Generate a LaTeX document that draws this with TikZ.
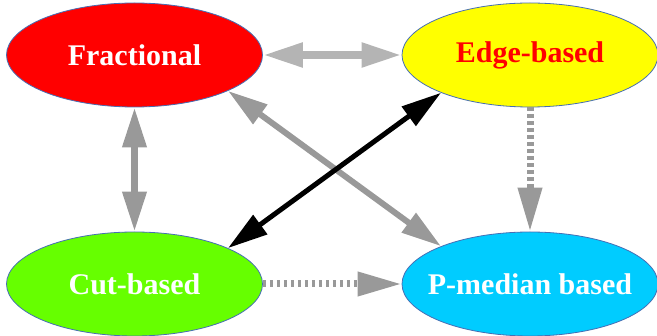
\documentclass[tikz,border=0pt]{standalone}
\usepackage{fontspec}
\setmainfont{Liberation Serif}
\usetikzlibrary{arrows.meta,shapes.geometric}

\definecolor{fracred}{RGB}{255,0,0}
\definecolor{edgeyellow}{RGB}{255,255,0}
\definecolor{cutgreen}{RGB}{102,255,0}
\definecolor{pmedblue}{RGB}{0,204,255}
\definecolor{rimblue}{RGB}{70,110,180}
\definecolor{lightlink}{RGB}{180,180,180}
\definecolor{darklink}{RGB}{153,153,153}

\tikzset{
  method/.style={ellipse, draw=rimblue, line width=0.8pt, inner xsep=-30pt, inner ysep=0pt,
    minimum width=256pt, minimum height=104pt,
    font=\fontsize{30}{36}\selectfont\bfseries},
  link/.style={line width=7pt, draw=darklink, {Triangle[length=40pt, width=23pt]}-{Triangle[length=40pt, width=23pt]}},
  dotlink/.style={line width=7pt, draw=darklink, dash pattern=on 3.5pt off 3.5pt, -{Triangle[length=44pt, width=23pt]}}
}

\begin{document}
\begin{tikzpicture}[x=1pt,y=-1pt]

\useasboundingbox (0,0) rectangle (657,336);

\node[method, fill=fracred, text=white] (frac) at (134.5,55) {Fractional};
\node[method, fill=edgeyellow, text=fracred] (edge) at (530,55) {Edge-based};
\node[method, fill=cutgreen, text=white] (cut) at (134.5,284) {Cut-based};
\node[method, fill=pmedblue, text=white] (pmed) at (530,284) {P-median based};

% gray two-way links
\draw[link, draw=lightlink, line width=8pt] (frac) -- (edge);
\draw[link] (frac) -- (cut);
\draw[link, line width=6pt] (frac.-21.8) -- (pmed.157);

% black two-way link
\draw[link, draw=black, line width=5pt] (edge.-157.7) -- (cut.21.7);

% dotted one-way links
\draw[dotlink] (edge) -- (pmed);
\draw[dotlink] (cut) -- (pmed);

\end{tikzpicture}
\end{document}
